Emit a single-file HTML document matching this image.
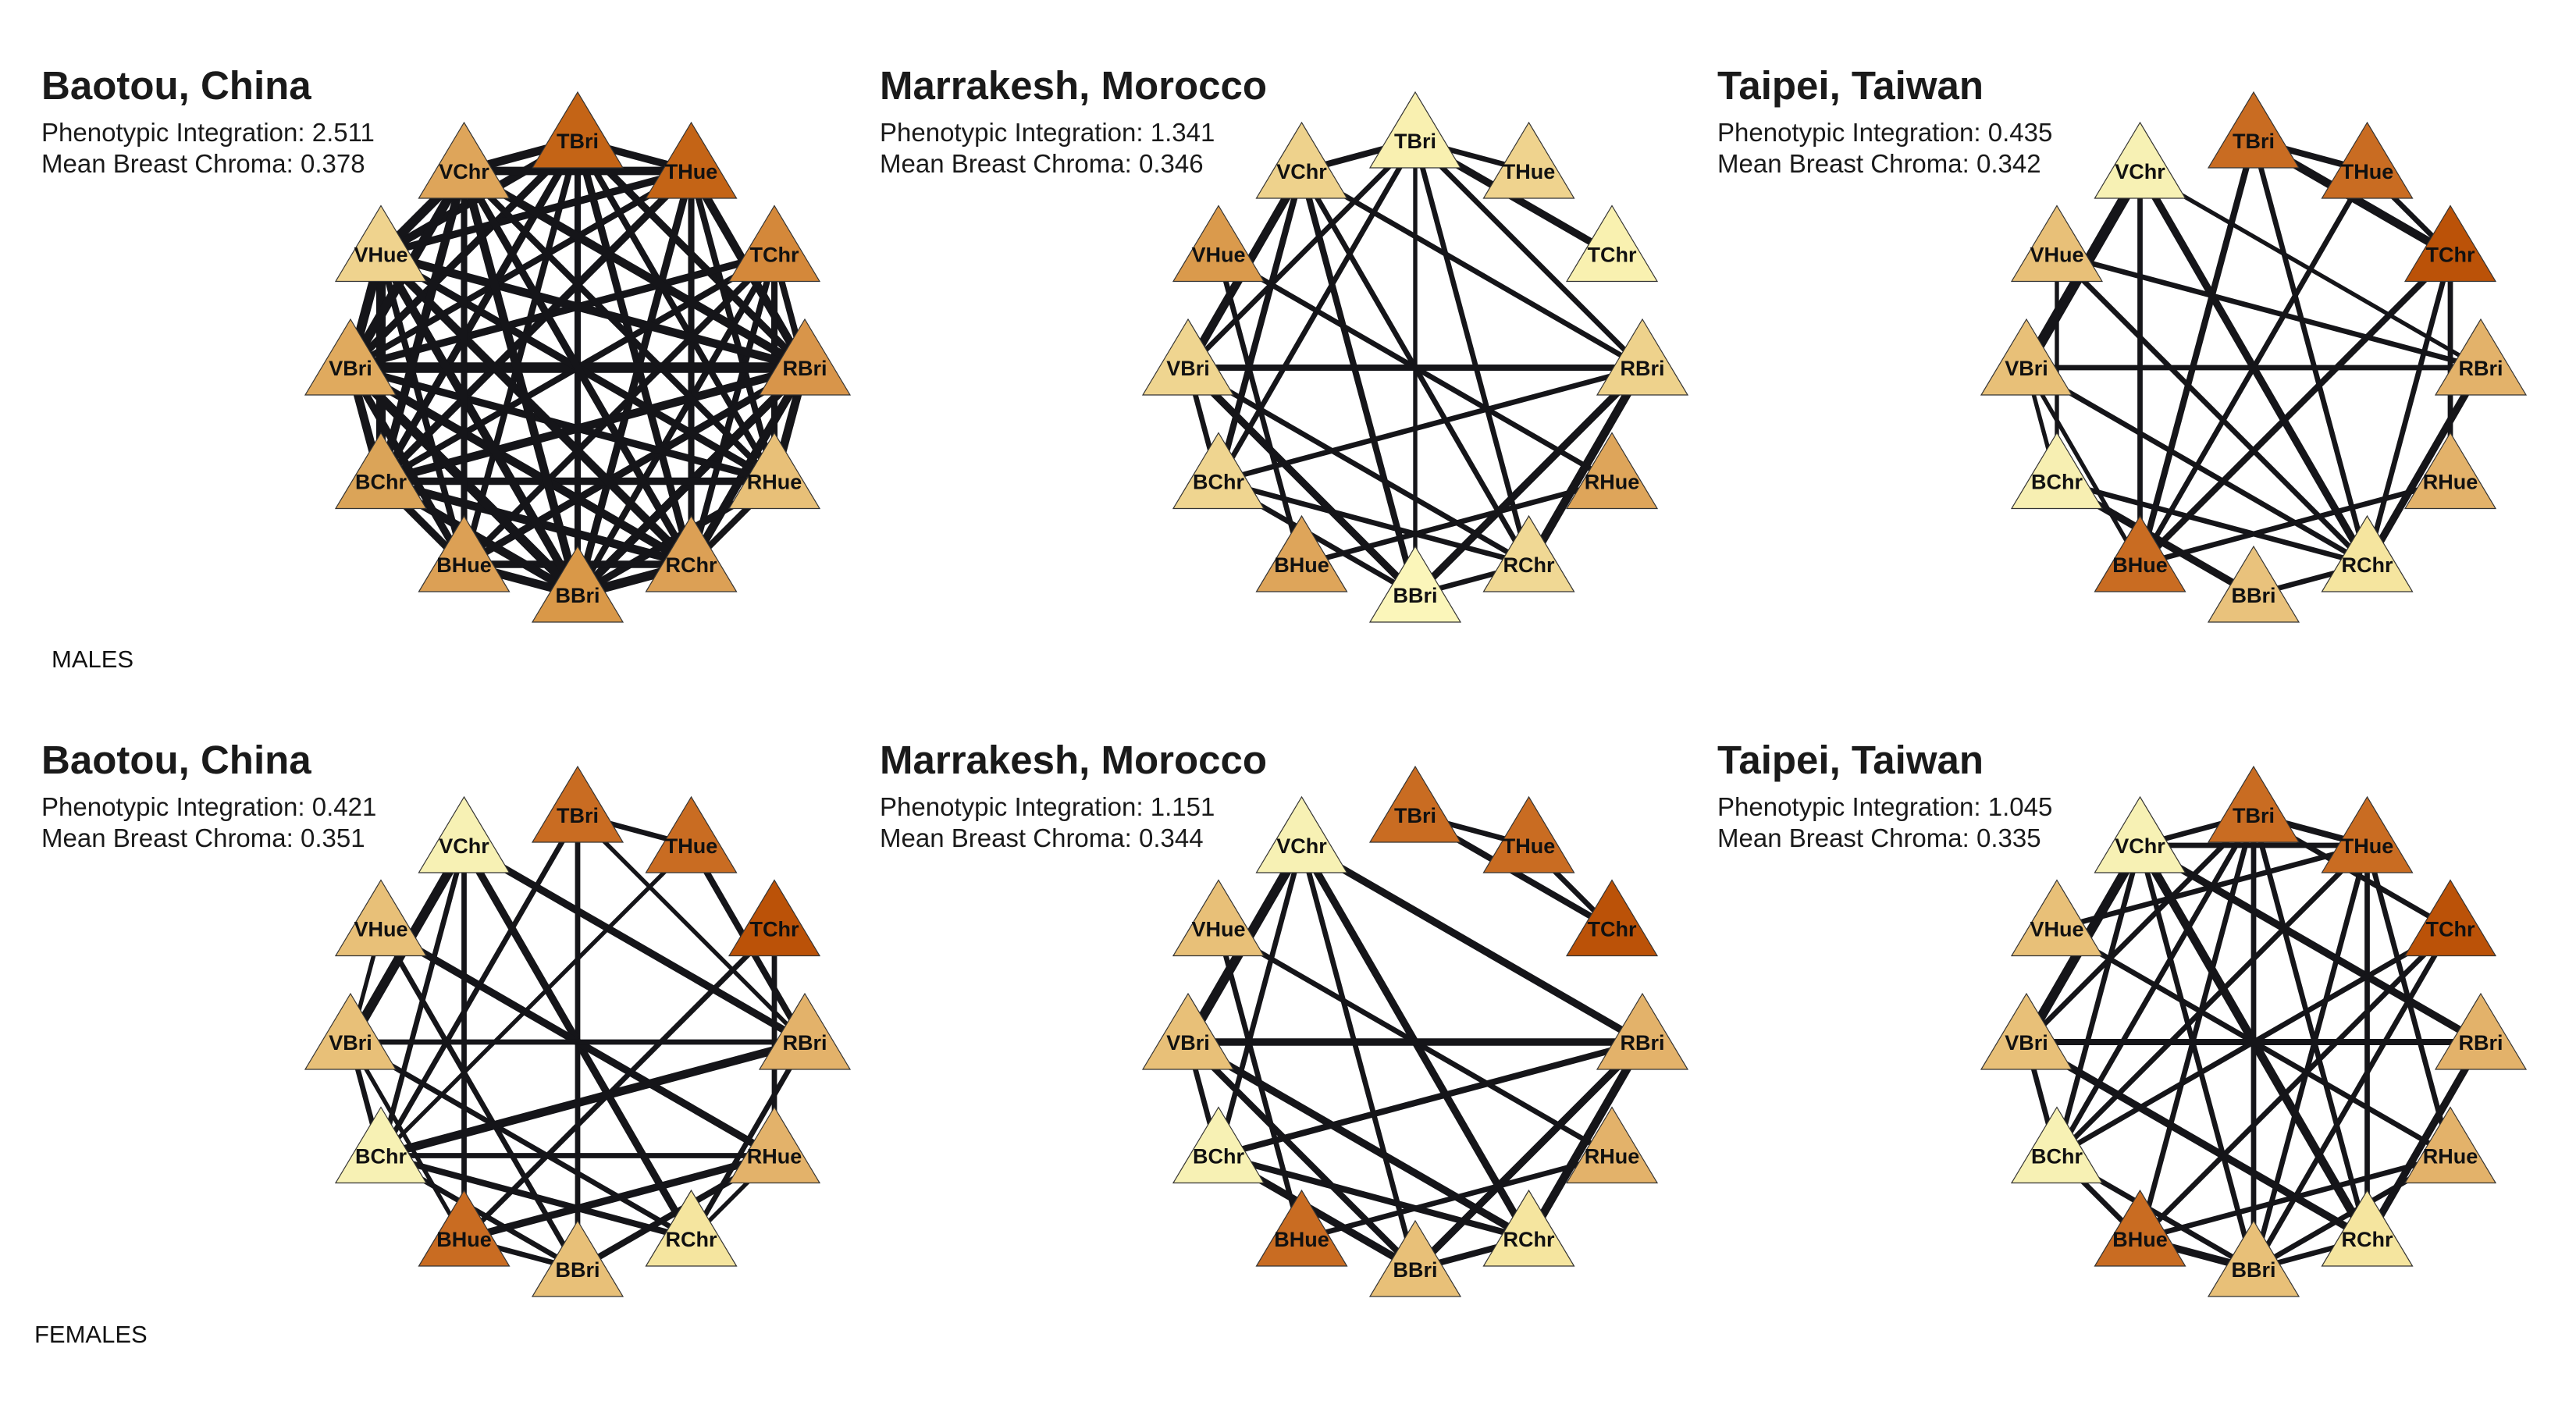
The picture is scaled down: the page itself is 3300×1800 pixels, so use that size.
<!DOCTYPE html>
<html><head><meta charset="utf-8">
<style>
html,body{margin:0;padding:0;background:#fff;}
svg{display:block;}
.title{font-family:"Liberation Sans",sans-serif;font-weight:bold;font-size:51px;fill:#1a1a1a;}
.sub{font-family:"Liberation Sans",sans-serif;font-size:33px;fill:#1a1a1a;}
.sex{font-family:"Liberation Sans",sans-serif;font-size:31px;fill:#111;}
.nl{font-family:"Liberation Sans",sans-serif;font-weight:bold;font-size:27px;fill:#111;}
</style></head>
<body>
<svg id="chart" width="3300" height="1800" viewBox="0 0 3300 1800" xmlns="http://www.w3.org/2000/svg">
<rect width="3300" height="1800" fill="#fff"/>
<text class="sex" x="66" y="855">MALES</text>
<text class="sex" x="44" y="1720">FEMALES</text>
</svg>
<script>
const nodeNames = ["TBri","THue","TChr","RBri","RHue","RChr","BBri","BHue","BChr","VBri","VHue","VChr"];
const panelTitles = ["Baotou, China","Marrakesh, Morocco","Taipei, Taiwan","Baotou, China","Marrakesh, Morocco","Taipei, Taiwan"];
const integrationValues = ["2.511","1.341","0.435","0.421","1.151","1.045"];
const chromaValues = ["0.378","0.346","0.342","0.351","0.344","0.335"];
const colorsP1 = ["#c46416","#c46416","#d4883a","#d8954a","#e8c078","#dca055","#d99848","#dca055","#dba458","#e0aa5e","#efd38e","#dea55a"];
const colorsP2 = ["#f9f0b0","#efd38e","#f9f1b0","#eed28c","#dea55a","#f0d894","#fbf6ba","#dea55a","#efd590","#efd590","#da9a4c","#eed28c"];
const colorsP3 = ["#c96c22","#c96c22","#bb5208","#e3b26a","#e3b26a","#f5e59f","#e9c27c","#c96c22","#f7efb2","#e8c078","#e8c078","#f7f1b4"];
const colorsP4 = ["#c96c22","#c96c22","#bb5208","#e3b26a","#e3b26a","#f5e59f","#e8c078","#c96c22","#f7f1b4","#e8c078","#e8c078","#f7f1b4"];
const colorsP5 = ["#c96c22","#c96c22","#bb5208","#e3b26a","#e3b26a","#f5e59f","#e8c078","#c96c22","#f7f1b4","#e8c078","#e8c078","#f7f1b4"];
const colorsP6 = ["#c96c22","#c96c22","#bb5208","#e3b26a","#e3b26a","#f5e59f","#e8c078","#c96c22","#f7f1b4","#e8c078","#e8c078","#f7f1b4"];
// edges: [from, to, weight]
const edgesP1 = [[0,11,8],[0,1,7],[0,3,7],[0,4,6],[0,5,7],[0,6,6],[0,7,6],[0,8,7],[0,9,7],[0,10,8],[1,11,8],[1,3,8],[1,4,6],[1,5,6],[1,6,7],[1,8,7],[1,9,6],[1,10,7],[2,3,6],[2,4,6],[2,5,6],[2,6,6],[2,7,6],[2,8,6],[2,9,7],[3,4,8],[3,5,8],[3,6,8],[3,7,7],[3,8,8],[3,9,10],[3,10,8],[3,11,8],[4,5,6],[4,6,7],[4,8,7],[4,9,7],[4,10,7],[4,11,6],[5,6,9],[5,7,7],[5,8,8],[5,9,8],[5,10,8],[5,11,7],[6,7,8],[6,8,8],[6,9,9],[6,10,8],[6,11,8],[7,8,7],[7,9,7],[7,10,6],[7,11,6],[8,9,8],[8,10,9],[8,11,8],[9,10,9],[9,11,9],[10,11,9]];
const edgesP2 = [[0,11,6],[0,1,5],[0,2,7],[0,3,5],[0,6,4],[0,5,5],[0,9,5],[0,8,5],[11,3,5],[11,9,8],[11,8,6],[11,6,6],[11,5,5],[10,4,5],[10,7,5],[9,3,6],[9,8,5],[9,6,7],[9,5,5],[8,3,5],[8,5,5],[8,6,5],[7,4,5],[6,5,5],[6,3,7],[5,3,8]];
const edgesP3 = [[0,1,6],[0,2,8],[1,2,5],[0,7,6],[0,5,5],[1,7,5],[2,7,6],[2,5,5],[2,4,5],[11,9,10],[11,7,5],[11,5,7],[11,3,4],[10,3,5],[10,8,4],[10,5,5],[9,3,5],[9,8,4],[9,7,4],[9,5,5],[8,6,7],[8,5,5],[7,4,5],[6,5,5],[5,3,7]];
const edgesP4 = [[0,1,5],[0,6,5],[0,8,5],[0,3,4],[1,3,6],[1,8,4],[2,4,5],[2,7,5],[11,9,9],[11,8,5],[11,7,5],[11,5,7],[11,3,7],[10,4,7],[10,9,4],[10,6,5],[9,3,5],[9,8,5],[9,7,4],[9,5,5],[8,3,8],[8,4,5],[8,5,6],[8,6,5],[7,6,5],[7,4,7],[6,4,6],[5,3,5],[5,4,4]];
const edgesP5 = [[0,1,5],[0,2,6],[1,2,5],[11,9,9],[11,8,5],[11,6,5],[11,5,7],[11,3,7],[10,4,5],[10,7,5],[9,3,7],[9,8,5],[9,6,6],[9,5,7],[8,3,6],[8,5,6],[8,6,7],[7,4,5],[6,3,7],[6,5,6],[5,3,8]];
const edgesP6 = [[0,1,6],[0,11,5],[11,1,5],[0,2,5],[1,10,5],[11,9,9],[11,8,5],[11,6,5],[11,5,8],[11,3,7],[0,6,5],[0,9,5],[0,8,5],[0,7,5],[0,5,5],[1,5,5],[1,6,5],[1,4,5],[1,8,5],[2,8,5],[2,7,5],[2,6,5],[10,4,5],[9,3,6],[9,8,5],[9,5,7],[8,7,5],[8,6,5],[7,4,5],[7,6,7],[6,5,5],[5,3,7],[6,4,5]];

const panelColors = [colorsP1,colorsP2,colorsP3,colorsP4,colorsP5,colorsP6];
const panelEdges = [edgesP1,edgesP2,edgesP3,edgesP4,edgesP5,edgesP6];

const NS = "http://www.w3.org/2000/svg";
const svg = document.getElementById('chart');
const colX = [740, 1813, 2887];
const rowY = [471, 1335];
const titleX = [53, 1127, 2200];
const titleY = [127, 991];
const RX = 291, RY = 291;
const WSCALE = 1.35;

function nodePos(cx, cy, k) {
  const th = (90 - 30 * k) * Math.PI / 180;
  return [cx + RX * Math.cos(th), cy - RY * Math.sin(th)];
}
function mk(tag, attrs) {
  const e = document.createElementNS(NS, tag);
  for (const k in attrs) e.setAttribute(k, attrs[k]);
  return e;
}

for (let p = 0; p < 6; p++) {
  const col = p % 3, row = Math.floor(p / 3);
  const cx = colX[col], cy = rowY[row];
  const g = mk('g', {});
  
  
  svg.appendChild(g);

  const tx = titleX[col], ty = titleY[row];
  const t = mk('text', {x: tx, y: ty, class: 'title'});
  
  
  t.textContent = panelTitles[p];
  g.appendChild(t);
  const s1 = mk('text', {x: tx, y: ty + 54, class: 'sub'});
  
  
  s1.textContent = 'Phenotypic Integration: ' + integrationValues[p];
  g.appendChild(s1);
  const s2 = mk('text', {x: tx, y: ty + 94, class: 'sub'});
  
  
  s2.textContent = 'Mean Breast Chroma: ' + chromaValues[p];
  g.appendChild(s2);

  const edges = panelEdges[p];
  for (const [a, b, w] of edges) {
    const [x1, y1] = nodePos(cx, cy, a);
    const [x2, y2] = nodePos(cx, cy, b);
    const l = mk('line', {x1, y1, x2, y2, stroke: '#151519', 'stroke-width': w * WSCALE});
    
    
    g.appendChild(l);
  }
  const cols = panelColors[p];
  for (let k = 0; k < 12; k++) {
    const [x, y] = nodePos(cx, cy, k);
    const tri = mk('polygon', {
      points: `${x},${y-62} ${x+58},${y+35} ${x-58},${y+35}`,
      fill: cols[k], stroke: '#333', 'stroke-width': 1.2
    });
    
    
    g.appendChild(tri);
    const lab = mk('text', {x: x, y: y + 10, class: 'nl', 'text-anchor': 'middle'});
    
    
    lab.textContent = nodeNames[k];
    g.appendChild(lab);
  }
}
</script>
</body></html>
